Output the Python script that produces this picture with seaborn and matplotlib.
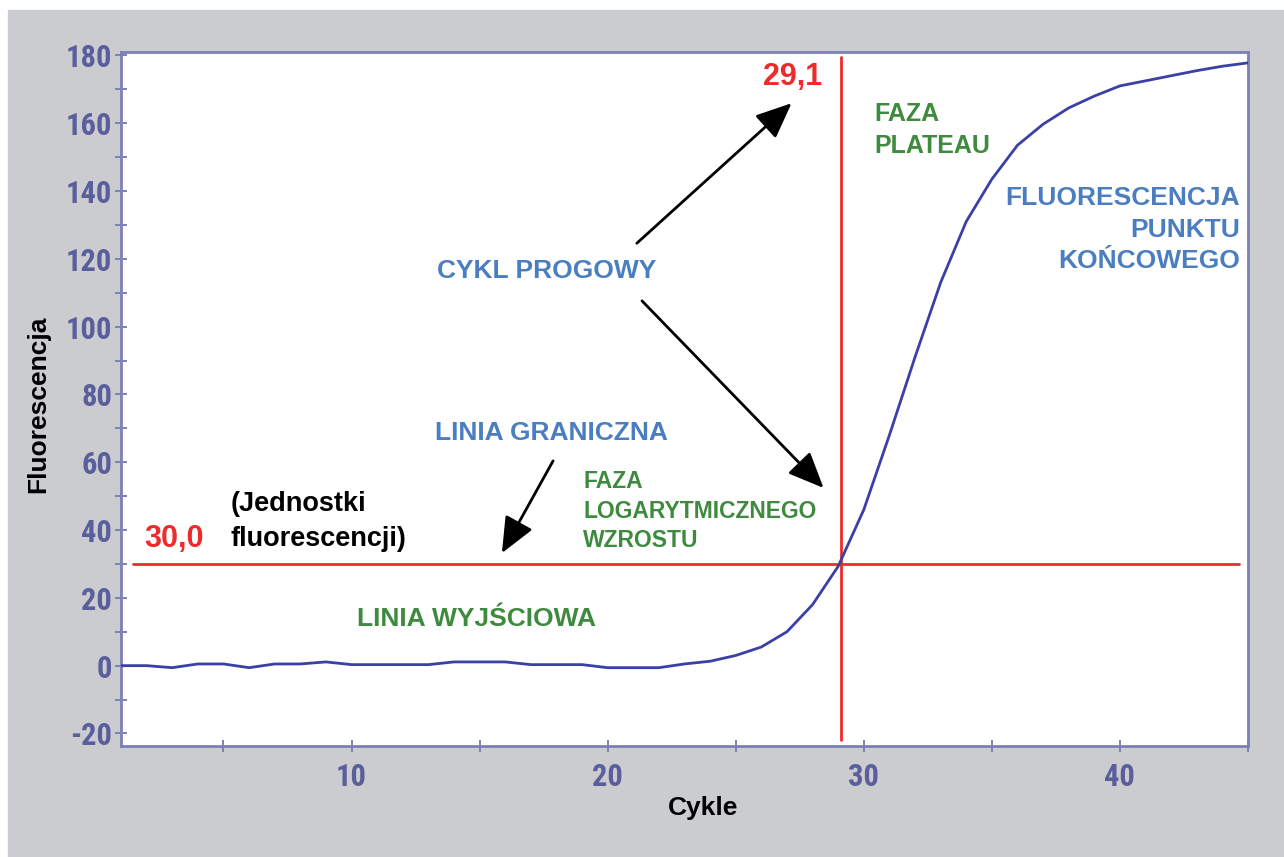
import matplotlib
matplotlib.use("Agg")
import matplotlib.pyplot as plt
from matplotlib.patches import Rectangle, FancyArrowPatch
from matplotlib import font_manager
import seaborn as sns
import pandas as pd

# qPCR amplification curve: fluorescence per cycle
cycles = list(range(1, 46))
fluorescence = [0.0, 0.0, -0.6, 0.5, 0.5, -0.6, 0.5, 0.5, 1.1, 0.3,
                0.3, 0.3, 0.3, 1.1, 1.1, 1.1, 0.3, 0.3, 0.3, -0.6,
                -0.6, -0.6, 0.5, 1.3, 3.0, 5.5, 10.0, 18.0, 29.3, 46.0,
                68.0, 91.0, 113.0, 131.0, 143.5, 153.5, 159.7, 164.5, 168.0, 171.0,
                172.5, 174.0, 175.5, 176.8, 177.8]

threshold = 30.0
ct_value = 29.1

x_major = [10, 20, 30, 40]
x_minor = [5, 15, 25, 35, 45]
y_major = list(range(-20, 181, 20))
y_minor = list(range(-10, 171, 20))

BG_GREY = "#cbcccf"
FRAME = "#7c80b4"
TICK_TXT = "#5a5e9c"
CURVE = "#3a40a6"
RED = "#ee2b2b"
BLUE = "#4a7ec0"
GREEN = "#3e8a3e"

sns.set_theme(style="white")
plt.rcParams["font.family"] = ["Liberation Sans", "DejaVu Sans"]

# narrow bold face for the tick numbers, if one is installed
names = {f.name for f in font_manager.fontManager.ttflist}
narrow = None
for cand in ["Liberation Sans Narrow", "DejaVu Sans Condensed", "Roboto Condensed",
             "Open Sans Condensed"]:
    if cand in names:
        narrow = cand
        break
if narrow is None:
    tick_font = dict(family=["DejaVu Sans"], stretch="condensed",
                     weight="bold", size=19, color=TICK_TXT)
else:
    tick_font = dict(family=[narrow, "DejaVu Sans"], weight="bold", size=22,
                     color=TICK_TXT)

fig = plt.figure(figsize=(12.84, 8.57), dpi=100, facecolor="white")
fig.patches.append(Rectangle((8 / 1284, 0), 1, (857 - 10) / 857,
                             transform=fig.transFigure, color=BG_GREY, zorder=-10))

ax = fig.add_axes([121 / 1284, (857 - 746) / 857, 1127 / 1284, 694 / 857])
ax.set_facecolor("white")

df = pd.DataFrame({"Cykle": cycles, "Fluorescencja": fluorescence})
sns.lineplot(data=df, x="Cykle", y="Fluorescencja", ax=ax, color=CURVE,
             linewidth=2.0, zorder=3)

ax.set_xlim(1, 45)
ax.set_ylim(-23.7, 181.0)

# threshold line and threshold cycle
ax.plot([1.47, 44.63], [threshold, threshold], color=RED, lw=2.0, zorder=2)
ax.plot([ct_value, ct_value], [-22.0, 179.5], color=RED, lw=2.0, zorder=2)

# frame and ticks
for s in ax.spines.values():
    s.set_color(FRAME)
    s.set_linewidth(2.0)
    s.set_visible(True)
ax.set_xticks(x_major)
ax.set_xticks(x_minor, minor=True)
ax.set_yticks(y_major)
ax.set_yticks(y_minor, minor=True)
ax.tick_params(which="both", direction="inout", length=8.6, width=1.4,
               color=FRAME, left=True, bottom=True, top=False, right=False)
ax.tick_params(axis="x", which="major", pad=7)
ax.tick_params(axis="y", which="major", pad=2)
ax.set_xticklabels([str(v) for v in x_major], fontdict=tick_font)
ax.set_yticklabels([str(v) for v in y_major], fontdict=tick_font)

ax.set_xlabel("Cykle", fontsize=19, fontweight="bold", color="black")
ax.xaxis.set_label_coords((703 - 121) / 1127, (746 - 808) / 694)
ax.xaxis.label.set_va("center")
ax.set_ylabel("Fluorescencja", fontsize=19, fontweight="bold", color="black")
ax.yaxis.set_label_coords((38 - 121) / 1127, (746 - 404) / 694)
ax.yaxis.label.set_va("center")

bold = dict(fontweight="bold", va="baseline")

ax.text(28.39, 171.2, "29,1", color=RED, fontsize=22, ha="right", **bold)
ax.text(1.90, 35.0, "30,0", color=RED, fontsize=22, ha="left", **bold)

ax.text(5.29, 45.6, "(Jednostki", color="black", fontsize=19.5, ha="left", **bold)
ax.text(5.29, 35.2, "fluorescencji)", color="black", fontsize=19.5, ha="left", **bold)

ax.text(30.41, 160.7, "FAZA", color=GREEN, fontsize=18, ha="left", **bold)
ax.text(30.41, 151.2, "PLATEAU", color=GREEN, fontsize=18, ha="left", **bold)

for yv, s in zip([135.8, 126.4, 117.3], ["FLUORESCENCJA", "PUNKTU", "KOŃCOWEGO"]):
    ax.text(44.70, yv, s, color=BLUE, fontsize=19, ha="right", **bold)

ax.text(17.60, 114.3, "CYKL PROGOWY", color=BLUE, fontsize=19, ha="center", **bold)
ax.text(17.79, 66.5, "LINIA GRANICZNA", color=BLUE, fontsize=19, ha="center", **bold)

for yv, s in zip([52.4, 43.5, 34.96], ["FAZA", "LOGARYTMICZNEGO", "WZROSTU"]):
    ax.text(19.04, yv, s, color=GREEN, fontsize=16.5, ha="left", **bold)

ax.text(14.87, 11.65, "LINIA WYJŚCIOWA", color=GREEN, fontsize=19, ha="center", **bold)

# pointer arrows
arrows = [((21.14, 124.6), (27.18, 165.9)),
          ((21.34, 107.6), (28.43, 52.4)),
          ((17.87, 60.4), (15.87, 33.2))]
for start, end in arrows:
    ax.add_patch(FancyArrowPatch(start, end,
                                 arrowstyle="-|>,head_length=2.2,head_width=0.95",
                                 mutation_scale=10, color="black", lw=2.0,
                                 shrinkA=0, shrinkB=0, zorder=4))

fig.savefig("out.png", dpi=100, facecolor=fig.get_facecolor())
